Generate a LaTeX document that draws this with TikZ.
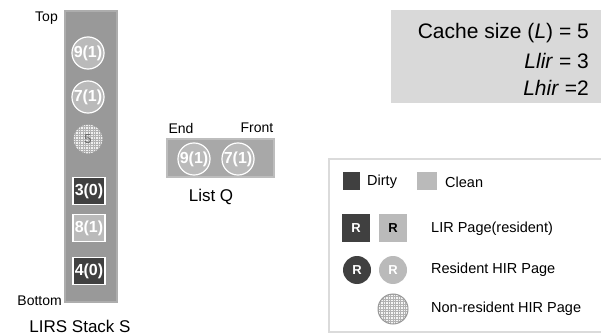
\documentclass[tikz,border=0pt]{standalone}
\usepackage{fontspec}
\setmainfont{Liberation Sans}
\begin{document}
\begin{tikzpicture}[x=1pt,y=-1pt,
  stackbg/.style={fill=stackgray,draw=stackedge,line width=2.5pt},
  hcirc/.style={circle,minimum size=32pt,inner sep=0pt,fill=lightpg,draw=white,line width=1.2pt,text=white,font=\fontsize{16}{16}\selectfont\bfseries},
  dsq/.style={rectangle,minimum width=32pt,minimum height=27pt,inner sep=0pt,fill=darkpg,draw=white,line width=1.2pt,text=white,font=\fontsize{16}{16}\selectfont\bfseries},
  csq/.style={dsq,fill=lightpg},
  lbl/.style={font=\fontsize{14}{14}\selectfont,inner sep=0pt},
  title/.style={font=\fontsize{17}{17}\selectfont,inner sep=0pt},
  leg/.style={font=\fontsize{14.5}{14.5}\selectfont,inner sep=0pt,anchor=west},
  gridcirc/.style={circle,minimum size=30pt,inner sep=0pt,draw=gray!80,line width=1pt},
  gridline/.style={gray!60,line width=0.4pt}
]
\definecolor{stackgray}{gray}{0.6}
\definecolor{stackedge}{gray}{0.68}
\definecolor{lightpg}{gray}{0.73}
\definecolor{darkpg}{gray}{0.25}
\definecolor{cachebg}{gray}{0.85}
\definecolor{qbg}{gray}{0.66}
\definecolor{qedge}{gray}{0.74}
\definecolor{legedge}{gray}{0.86}
\useasboundingbox (0,0) rectangle (601,336);

% LIRS stack
\draw[stackbg] (65,11) rectangle (117,302);
\node[lbl,anchor=east] (top) at (58,18) {Top};
\node[lbl,anchor=east] (bottom) at (62,301) {Bottom};
\node[title] (stacklbl) at (80,326) {LIRS Stack S};
\node[hcirc] (s9) at (88,53) {9(1)};
\node[hcirc] (s7) at (88,97) {7(1)};
\begin{scope}
  \clip (88,139) circle (15);
  \fill[gray!12] (88,139) circle (15);
  \foreach \d in {-15,-12.5,...,15} {
    \draw[gridline] (88+\d,122) -- (88+\d,156);
    \draw[gridline] (71,139+\d) -- (105,139+\d);
  }
\end{scope}
\node[gridcirc,text=gray!80!black,font=\fontsize{13}{13}\selectfont] (s5) at (88,139) {5};
\node[dsq] (s3) at (89,191) {3(0)};
\node[csq] (s8) at (89,228) {8(1)};
\node[dsq] (s4) at (89,271) {4(0)};

% List Q
\draw[fill=qbg,draw=qedge,line width=2.5pt] (167,139) rectangle (274,177);
\node[lbl] (endl) at (181,128) {End};
\node[lbl] (front) at (257,128) {Front};
\node[hcirc,minimum size=30pt] (q9) at (194,159) {9(1)};
\node[hcirc,minimum size=30pt] (q7) at (238,159) {7(1)};
\node[title] (qlbl) at (211,197) {List Q};

% Cache box
\fill[cachebg] (391,10) rectangle (601,103);
\node[font=\fontsize{21}{21}\selectfont,anchor=east,inner sep=0pt] (c1) at (589,33) {Cache size (\textit{L}) = 5};
\node[font=\fontsize{21}{21}\selectfont,anchor=east,inner sep=0pt] (c2) at (589,61) {\textit{Llir} = 3};
\node[font=\fontsize{21}{21}\selectfont,anchor=east,inner sep=0pt] (c3) at (589,88) {\textit{Lhir} =2};

% Legend
\draw[draw=legedge,line width=2pt] (329,159) rectangle (603,332);
\fill[darkpg] (343,172) rectangle (360,190);
\node[leg] (ldirty) at (367,182) {Dirty};
\fill[lightpg] (417,172) rectangle (437,190);
\node[leg] (lclean) at (445,182) {Clean};
\node[rectangle,minimum width=28pt,minimum height=28pt,inner sep=0pt,fill=darkpg,text=white,font=\fontsize{13}{13}\selectfont\bfseries] (r1) at (356,228) {R};
\node[rectangle,minimum width=28pt,minimum height=28pt,inner sep=0pt,fill=lightpg,text=black,font=\fontsize{13}{13}\selectfont\bfseries] (r2) at (393,228) {R};
\node[leg] (llir) at (431,229) {LIR Page(resident)};
\node[circle,minimum size=28pt,inner sep=0pt,fill=darkpg,text=white,font=\fontsize{13}{13}\selectfont\bfseries] (r3) at (357,270) {R};
\node[circle,minimum size=28pt,inner sep=0pt,fill=lightpg,text=white,font=\fontsize{13}{13}\selectfont\bfseries] (r4) at (393,270) {R};
\node[leg] (lhir) at (431,270) {Resident HIR Page};
\begin{scope}
  \clip (393,309) circle (15);
  \fill[gray!8] (393,309) circle (15);
  \foreach \d in {-15,-12.5,...,15} {
    \draw[gridline] (393+\d,292) -- (393+\d,326);
    \draw[gridline] (376,309+\d) -- (410,309+\d);
  }
\end{scope}
\node[gridcirc] (r5) at (393,309) {};
\node[leg] (lnon) at (431,309) {Non-resident HIR Page};
\end{tikzpicture}
\end{document}
